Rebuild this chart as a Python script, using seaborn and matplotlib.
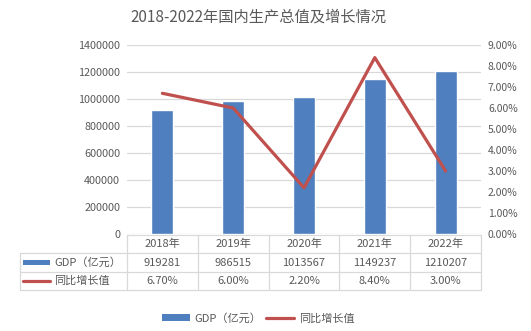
import matplotlib
matplotlib.use("Agg")
import matplotlib.pyplot as plt
import seaborn as sns
import pandas as pd
from matplotlib.lines import Line2D
from matplotlib.patches import Rectangle

# ---- data ----
years = ["2018年", "2019年", "2020年", "2021年", "2022年"]
gdp = [919281, 986515, 1013567, 1149237, 1210207]
growth = [6.70, 6.00, 2.20, 8.40, 3.00]
gdp_label = "GDP（亿元）"
growth_label = "同比增长值"
title = "2018-2022年国内生产总值及增长情况"

sns.set_theme(style="white")
plt.rcParams["font.family"] = ["Noto Sans CJK SC", "DejaVu Sans"]

BLUE = "#4F7FBE"
RED = "#C0504D"
TXT = "#595959"
GRID = "#D9D9D9"
W, H = 531, 331

fig = plt.figure(figsize=(W / 100, H / 100), dpi=100)
fig.patch.set_facecolor("white")

def fx(px):
    return px / W

def fy(py):
    return 1 - py / H

left, right, top, bottom = 127, 481, 45, 234
ax = fig.add_axes([fx(left), fy(bottom), fx(right - left), (bottom - top) / H])

df = pd.DataFrame({"year": years, "gdp": gdp, "growth": growth, "pos": range(len(years))})
sns.barplot(data=df, x="year", y="gdp", ax=ax, color=BLUE, width=0.31, saturation=1)
ax.set_xlim(-0.5, len(years) - 0.5)
ax.set_ylim(0, 1400000)
ax.set_yticks(range(0, 1400001, 200000))
ax.set_yticklabels([str(v) for v in range(0, 1400001, 200000)])
ax.yaxis.grid(True, color=GRID, lw=0.9)
ax.set_axisbelow(True)
ax.set_xticks([])
ax.set_xlabel("")
ax.set_ylabel("")
for s in ax.spines.values():
    s.set_visible(False)
ax.tick_params(axis="y", length=0, pad=5, labelsize=7.8, labelcolor=TXT)

ax2 = ax.twinx()
sns.lineplot(data=df, x="pos", y="growth", ax=ax2, color=RED, lw=2.3)
ax2.set_xlim(-0.5, len(years) - 0.5)
ax2.set_ylim(0, 9)
ax2.set_yticks(range(0, 10))
ax2.set_yticklabels([f"{v:.2f}%" for v in range(0, 10)])
ax2.set_ylabel("")
ax2.set_xlabel("")
for s in ax2.spines.values():
    s.set_visible(False)
ax2.tick_params(axis="y", length=0, pad=5, labelsize=7.5, labelcolor=TXT)

# ---- data table ----
colw = (right - left) / len(years)
rows_y = [235, 253, 272, 290]
tbl_left = 20
lkw = dict(transform=fig.transFigure, color=GRID, lw=0.9)
fig.add_artist(Line2D([fx(left), fx(right)], [fy(rows_y[0])] * 2, **lkw))
for yy in rows_y[1:]:
    fig.add_artist(Line2D([fx(tbl_left), fx(right)], [fy(yy)] * 2, **lkw))
fig.add_artist(Line2D([fx(tbl_left)] * 2, [fy(rows_y[1]), fy(rows_y[3])], **lkw))
for i in range(len(years) + 1):
    xx = left + i * colw
    fig.add_artist(Line2D([fx(xx)] * 2, [fy(rows_y[0]), fy(rows_y[3])], **lkw))

tkw = dict(ha="center", va="center", fontsize=8, color=TXT)
for i, (yr, g, gr) in enumerate(zip(years, gdp, growth)):
    cx = fx(left + (i + 0.5) * colw)
    fig.text(cx, fy((rows_y[0] + rows_y[1]) / 2), yr, **tkw)
    fig.text(cx, fy((rows_y[1] + rows_y[2]) / 2), str(g), **tkw)
    fig.text(cx, fy((rows_y[2] + rows_y[3]) / 2), f"{gr:.2f}%", **tkw)

r2 = (rows_y[1] + rows_y[2]) / 2
r3 = (rows_y[2] + rows_y[3]) / 2
fig.add_artist(Rectangle((fx(23), fy(r2 + 2.5)), fx(50) - fx(23), 5 / H,
                         transform=fig.transFigure, color=BLUE, lw=0))
fig.add_artist(Line2D([fx(23), fx(50)], [fy(r3)] * 2, transform=fig.transFigure,
                      color=RED, lw=2.3))
fig.text(fx(54), fy(r2), gdp_label, ha="left", va="center", fontsize=8, color=TXT)
fig.text(fx(54), fy(r3), growth_label, ha="left", va="center", fontsize=8, color=TXT)

# ---- title ----
fig.text(fx(258), fy(17), title, ha="center", va="center", fontsize=11, color=TXT)

# ---- legend ----
handles = [Rectangle((0, 0), 1, 1, color=BLUE, lw=0),
           Line2D([0], [0], color=RED, lw=2.3)]
fig.legend(handles, [gdp_label, growth_label], loc="center",
           bbox_to_anchor=(fx(258), fy(318)), ncol=2, frameon=False,
           fontsize=8, labelcolor=TXT, handlelength=2.5, handleheight=0.5,
           handletextpad=0.4, columnspacing=0.5)

fig.savefig("out.png", dpi=100, facecolor="white")
